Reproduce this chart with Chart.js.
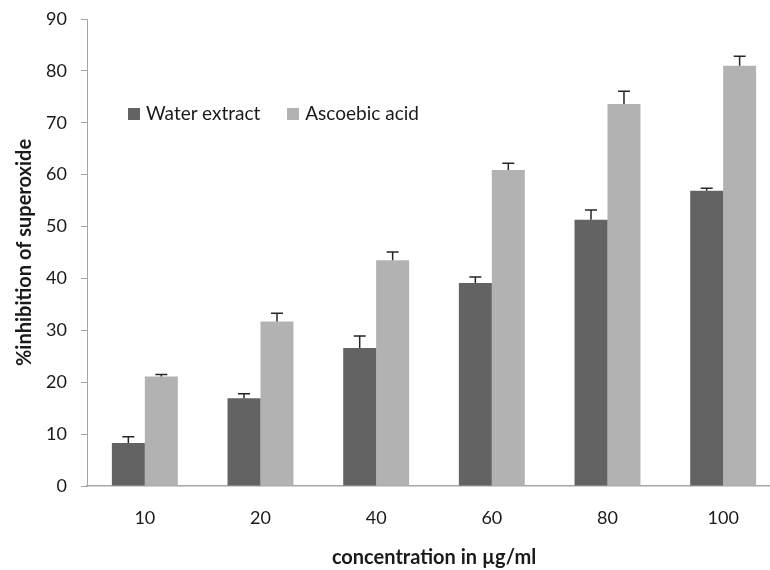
<!DOCTYPE html>
<html>
<head>
<meta charset="utf-8">
<script src="https://cdn.jsdelivr.net/npm/chart.js@4.4.0/dist/chart.umd.min.js"></script>
<style>
  html, body { margin: 0; padding: 0; background: #fff; overflow: hidden; }
  #wrap { position: relative; width: 785px; height: 570px; }
  #legend { position: absolute; left: 128px; top: 101px; font-family: Lato, sans-serif; font-size: 19px; color: #1a1a1a; white-space: nowrap; }
  #legend span.box { display: inline-block; width: 12px; height: 12px; margin-right: 6px; vertical-align: 0px; }
  #legend span.item { margin-right: 22px; }
</style>
</head>
<body>
<div id="wrap">
  <canvas id="chart1" width="785" height="570"></canvas>
  <div id="legend">
    <span class="item"><span class="box" style="background:#636363"></span>Water extract</span>
    <span class="item"><span class="box" style="background:#b2b2b2"></span>Ascoebic acid</span>
  </div>
</div>
<script>
// data
var concentrations = ['10', '20', '40', '60', '80', '100'];
var waterExtract = [8.3, 16.9, 26.6, 39.1, 51.3, 56.9];
var waterErr = [1.2, 0.9, 2.3, 1.2, 1.9, 0.5];
var ascorbicAcid = [21.1, 31.7, 43.5, 60.9, 73.6, 81.0];
var ascorbicErr = [0.4, 1.6, 1.6, 1.3, 2.5, 1.8];

var errors = [waterErr, ascorbicErr];

// upper error bars with caps
var errorBars = {
    id: 'errorBars',
    afterDatasetsDraw: function(chart) {
        var ctx = chart.ctx;
        var y = chart.scales.y;
        ctx.save();
        ctx.strokeStyle = '#262626';
        ctx.lineWidth = 1.5;
        chart.data.datasets.forEach(function(ds, i) {
            var meta = chart.getDatasetMeta(i);
            meta.data.forEach(function(bar, j) {
                var top = y.getPixelForValue(ds.data[j] + errors[i][j]);
                ctx.beginPath();
                ctx.moveTo(bar.x, bar.y);
                ctx.lineTo(bar.x, top);
                ctx.moveTo(bar.x - 6, top);
                ctx.lineTo(bar.x + 6, top);
                ctx.stroke();
            });
        });
        ctx.restore();
    }
};

var ctx1 = document.getElementById('chart1').getContext('2d');
var chart1 = new Chart(ctx1, {
    type: 'bar',
    data: {
        labels: concentrations,
        datasets: [
            { label: 'Water extract', data: waterExtract, backgroundColor: '#636363' },
            { label: 'Ascoebic acid', data: ascorbicAcid, backgroundColor: '#b2b2b2' }
        ]
    },
    plugins: [errorBars],
    options: {
        responsive: false,
        animation: false,
        layout: { padding: { left: 0, right: 4, top: 19, bottom: 0 } },
        plugins: {
            legend: { display: false },
            tooltip: { enabled: false }
        },
        datasets: {
            bar: { barPercentage: 1, categoryPercentage: 0.57 }
        },
        scales: {
            x: {
                grid: { display: false },
                border: { display: true, color: '#a6a6a6', width: 1.5 },
                ticks: {
                    color: '#1a1a1a',
                    font: { family: 'Lato', size: 18 },
                    padding: 13,
                    maxRotation: 0
                },
                title: {
                    display: true,
                    text: 'concentration in µg/ml',
                    color: '#1a1a1a',
                    font: { family: 'Lato', size: 20, weight: 'bold' },
                    padding: { top: 0, bottom: 0 }
                },
                afterFit: function(scale) {
                    scale.height = 84;
                    scale.paddingLeft = 0;
                    scale.paddingRight = 0;
                }
            },
            y: {
                min: 0,
                max: 90,
                beginAtZero: true,
                grid: {
                    drawOnChartArea: false,
                    drawTicks: true,
                    tickLength: 6,
                    color: '#a6a6a6'
                },
                border: { display: true, color: '#a6a6a6', width: 1 },
                ticks: {
                    stepSize: 10,
                    color: '#1a1a1a',
                    font: { family: 'Lato', size: 18 },
                    padding: 14
                },
                title: {
                    display: true,
                    text: '%inhibition of superoxide',
                    color: '#1a1a1a',
                    font: { family: 'Lato', size: 20, weight: 'bold' },
                    padding: { top: 13, bottom: 0 }
                },
                afterFit: function(scale) {
                    scale.width = 87;
                    scale.paddingTop = 0;
                    scale.paddingBottom = 0;
                }
            }
        }
    }
});
</script>
</body>
</html>
